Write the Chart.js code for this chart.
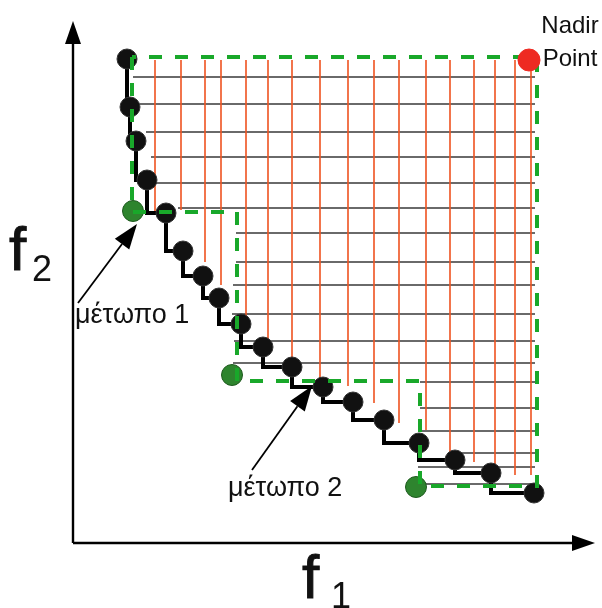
<!DOCTYPE html>
<html>
<head>
<meta charset="utf-8">
<script src="https://cdn.jsdelivr.net/npm/chart.js@4/dist/chart.umd.min.js"></script>
<style>
  html, body { margin: 0; padding: 0; background: #fff; }
  canvas { display: block; }
</style>
</head>
<body>
<canvas id="frontChart" width="602" height="608"></canvas>
<script>
// all values are f1 / f2 measured from the axis corner

// non-dominated points (black)
var frontF1 = [54, 57, 63, 74, 93, 110, 130, 146, 168, 190, 219, 250, 280, 311, 346, 382, 418, 461];
var frontF2 = [484, 436, 402, 363, 330, 292, 267, 245, 219, 196, 176, 156, 141, 123, 100, 83, 70, 50];

// front 1 points (green)
var front1F1 = [60, 159, 343];
var front1F2 = [332, 168, 56];

// nadir point (red)
var nadirF1 = [456];
var nadirF2 = [483];

// outline of the region dominated by front 1
var boxF1 = [59, 59, 164, 164, 347, 347, 464, 464, 59];
var boxF2 = [486, 331, 331, 162, 162, 57, 57, 486, 486];

// horizontal hatch lines: level and where each starts
var hLevel = [466, 439, 411, 386, 360, 335, 310, 281, 258, 229, 202, 180, 161, 135, 112, 90, 76, 59];
var hStart = [60, 67, 73, 78, 83, 105, 163, 163, 160, 159, 161, 160, 347, 347, 349, 389, 345, 349];
var hEnd = 462;

// vertical hatch lines: position and where each stops
var vPos = [82, 108, 132, 148, 173, 195, 219, 247, 275, 301, 326, 353, 377, 401, 422, 442, 458];
var vBottom = [331, 333, 281, 258, 213, 200, 181, 158, 157, 140, 120, 113, 88, 81, 75, 68, 68];
var vTop = 483;

function toPoints(xs, ys) {
  return xs.map(function(x, i) { return { x: x, y: ys[i] }; });
}

var hLines = [];
hLevel.forEach(function(y, i) {
  hLines.push({ x: hStart[i], y: y }, { x: hEnd, y: y }, { x: null, y: null });
});

var vLines = [];
vPos.forEach(function(x, i) {
  vLines.push({ x: x, y: vTop }, { x: x, y: vBottom[i] }, { x: null, y: null });
});

// axes, arrows and labels
var sketchPlugin = {
  id: 'sketch',
  afterDraw: function(chart) {
    var c = chart.ctx;
    var xs = chart.scales.x, ys = chart.scales.y;
    function px(v) { return xs.getPixelForValue(v); }
    function py(v) { return ys.getPixelForValue(v); }

    function arrow(x0, y0, x1, y1, width, headLen, headHalf) {
      var ax = px(x0), ay = py(y0), bx = px(x1), by = py(y1);
      var ang = Math.atan2(by - ay, bx - ax);
      var baseX = bx - headLen * Math.cos(ang), baseY = by - headLen * Math.sin(ang);
      c.save();
      c.strokeStyle = '#000';
      c.fillStyle = '#000';
      c.lineWidth = width;
      c.beginPath();
      c.moveTo(ax, ay);
      c.lineTo(baseX, baseY);
      c.stroke();
      c.beginPath();
      c.moveTo(bx, by);
      c.lineTo(baseX + headHalf * Math.sin(ang), baseY - headHalf * Math.cos(ang));
      c.lineTo(baseX - headHalf * Math.sin(ang), baseY + headHalf * Math.cos(ang));
      c.closePath();
      c.fill();
      c.restore();
    }

    // f2 and f1 axes
    arrow(0, 0, 0, 522, 2.4, 23, 8);
    arrow(0, 0, 522, 0, 2.4, 23, 8);

    // pointers to the fronts
    arrow(5, 240, 64, 319, 1.8, 25, 9);
    arrow(179, 73, 239, 157, 1.8, 25, 9);

    c.save();
    c.fillStyle = '#111';
    c.strokeStyle = '#111';
    c.textBaseline = 'alphabetic';
    c.textAlign = 'left';
    c.font = '27px "Liberation Sans", Arial, sans-serif';
    c.fillText('μέτωπο 1', 75, 323);
    c.fillText('μέτωπο 2', 228, 496);

    c.textAlign = 'center';
    c.font = '24px "Liberation Sans", Arial, sans-serif';
    c.fillText('Nadir', 570, 33);
    c.fillText('Point', 570, 66);

    // axis names, f a little heavier
    c.textAlign = 'left';
    c.lineWidth = 0.9;
    c.font = '62px "Liberation Sans", Arial, sans-serif';
    c.fillText('f', 9, 270);
    c.strokeText('f', 9, 270);
    c.fillText('f', 302, 598);
    c.strokeText('f', 302, 598);
    c.font = '36px "Liberation Sans", Arial, sans-serif';
    c.fillText('2', 32, 281);
    c.fillText('1', 331, 608);
    c.restore();
  }
};

new Chart(document.getElementById('frontChart'), {
  type: 'scatter',
  data: {
    datasets: [
      {
        data: toPoints(nadirF1, nadirF2),
        pointRadius: 11,
        backgroundColor: '#ee2a22',
        borderColor: '#ee2a22',
        order: 1
      },
      {
        data: toPoints(boxF1, boxF2),
        showLine: true,
        pointRadius: 0,
        borderColor: '#19a82a',
        borderWidth: 4,
        borderDash: [13, 13],
        order: 2
      },
      {
        data: toPoints(front1F1, front1F2),
        pointRadius: 10.5,
        backgroundColor: '#2e842e',
        borderColor: '#1e5a1e',
        borderWidth: 1,
        order: 3
      },
      {
        data: toPoints(frontF1, frontF2),
        pointRadius: 10,
        backgroundColor: '#111',
        borderColor: '#333',
        borderWidth: 1,
        order: 4
      },
      {
        data: toPoints(frontF1, frontF2),
        showLine: true,
        stepped: 'after',
        pointRadius: 0,
        borderColor: '#000',
        borderWidth: 4,
        order: 5
      },
      {
        data: vLines,
        showLine: true,
        spanGaps: false,
        pointRadius: 0,
        borderColor: 'rgba(238, 85, 35, 0.9)',
        borderWidth: 1.8,
        order: 6
      },
      {
        data: hLines,
        showLine: true,
        spanGaps: false,
        pointRadius: 0,
        borderColor: '#3a3a3a',
        borderWidth: 1.6,
        order: 7
      }
    ]
  },
  options: {
    responsive: false,
    animation: false,
    layout: { padding: 0, autoPadding: false },
    plugins: {
      legend: { display: false },
      tooltip: { enabled: false }
    },
    scales: {
      x: { type: 'linear', display: false, min: -73, max: 529 },
      y: { type: 'linear', display: false, min: -65, max: 543 }
    }
  },
  plugins: [sketchPlugin]
});
</script>
</body>
</html>
